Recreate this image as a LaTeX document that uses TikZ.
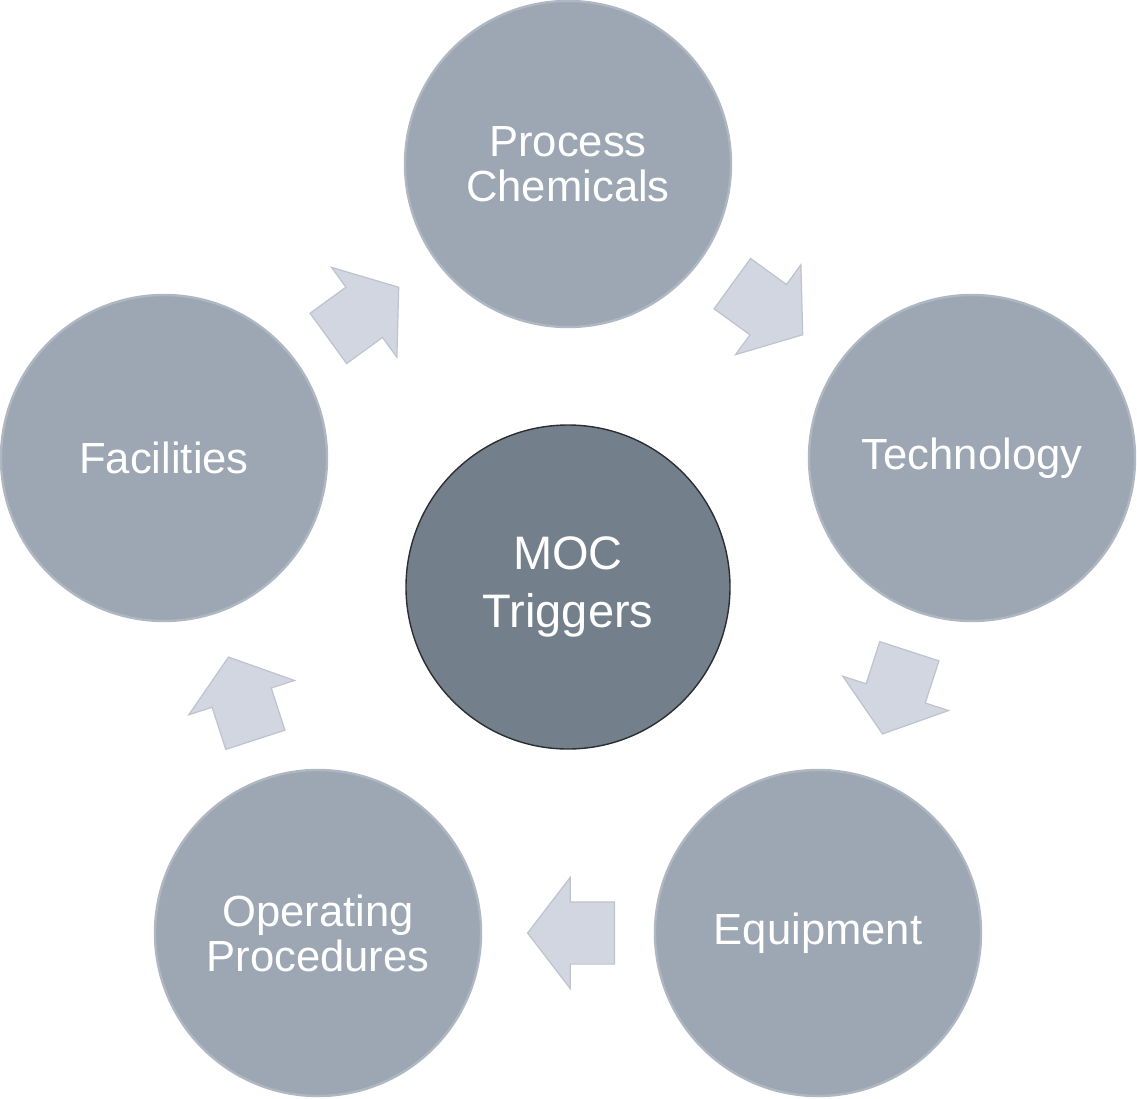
\documentclass[tikz,border=0pt]{standalone}
\usepackage{fontspec}
\setmainfont{Liberation Sans}
\usetikzlibrary{shapes.arrows,calc}
\definecolor{ringfill}{HTML}{9CA7B3}
\definecolor{ringedge}{HTML}{AEB7C2}
\definecolor{mocfill}{HTML}{737F8B}
\definecolor{mocedge}{HTML}{2B2F33}
\definecolor{flowfill}{HTML}{D2D6E0}
\definecolor{flowedge}{HTML}{BEC3CE}

\begin{document}
\begin{tikzpicture}[x=0.5pt,y=-0.5pt,
 trigger/.style={circle,fill=ringfill,draw=ringedge,line width=1.2pt,minimum size=163pt,
  inner sep=0pt,text=white,align=center,font=\fontsize{21.8}{22.5}\selectfont},
 hub/.style={circle,fill=mocfill,draw=mocedge,line width=0.7pt,minimum size=162pt,
  inner sep=0pt,text=white,align=center,font=\fontsize{23.5}{29}\selectfont},
 flowarrow/.style={single arrow,fill=flowfill,draw=flowedge,line width=0.6pt,
  inner xsep=0pt,inner ysep=15.25pt,minimum height=43.5pt,
  single arrow head extend=12.25pt,single arrow tip angle=105}]
\useasboundingbox (0,0) rectangle (1137,1099);
\node[hub] (moc) at (568,587) {MOC\\Triggers};
\node[trigger] (chem) at (568,164) {Process\\Chemicals};
\node[trigger] (tech) at (972,458) {Technology};
\node[trigger] (equip) at (818,933) {Equipment};
\node[trigger] (oper) at (318,933) {Operating\\Procedures};
\node[trigger] (fac) at (164,458) {Facilities};
% arrows sit half way between two triggers, pulled back a little toward the source
\node[flowarrow,rotate=36] (fc) at ($(fac)!0.5!(chem)!7.5pt!(fac)$) {};
\node[flowarrow,rotate=-36] (ct) at ($(chem)!0.5!(tech)!7.5pt!(chem)$) {};
\node[flowarrow,rotate=-108] (te) at ($(tech)!0.5!(equip)!7.5pt!(tech)$) {};
\node[flowarrow,rotate=180] (eo) at ($(equip)!0.5!(oper)!7.5pt!(equip)$) {};
\node[flowarrow,rotate=108] (of) at ($(oper)!0.5!(fac)!7.5pt!(oper)$) {};
\end{tikzpicture}
\end{document}
